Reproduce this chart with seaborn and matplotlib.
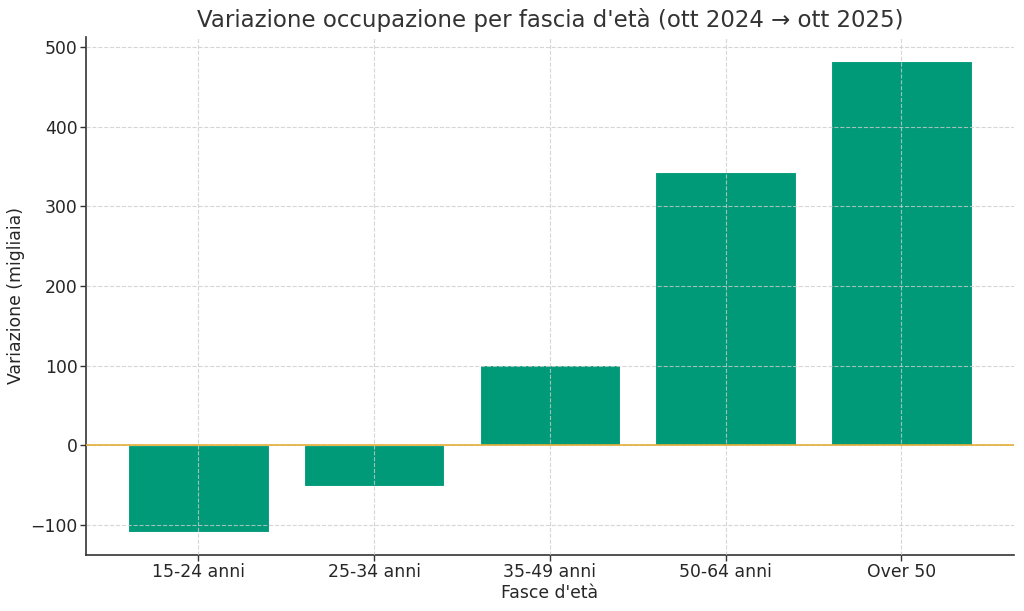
import matplotlib
matplotlib.use("Agg")
import matplotlib.pyplot as plt
import seaborn as sns
import pandas as pd

categories = ["15-24 anni", "25-34 anni", "35-49 anni", "50-64 anni", "Over 50"]
values = [-109, -51, 101, 343, 483]

sns.set_style("white")
plt.rcParams['font.family'] = ['DejaVu Sans']

df = pd.DataFrame({"Fascia": categories, "Variazione": values})

fig = plt.figure(figsize=(10.24, 6.11), dpi=100)
ax = fig.add_axes([0.084, 0.0917, 0.906, 0.8477])
sns.barplot(data=df, x="Fascia", y="Variazione", color="#009a78", saturation=1,
            width=0.8, edgecolor="white", linewidth=0.8, ax=ax)
ax.axhline(0, color="#e5ae38", linewidth=1.2, zorder=3)
ax.set_axisbelow(False)
ax.grid(True, linestyle="--", color="#cccccc", linewidth=0.8, alpha=0.8)
ax.set_xlim(-0.64, 4.64)
ax.set_ylim(-138, 513)
ax.set_yticks([-100, 0, 100, 200, 300, 400, 500])
ax.set_yticklabels(["\u2212100", "0", "100", "200", "300", "400", "500"])
for s in ["top", "right"]:
    ax.spines[s].set_visible(False)
for s in ["left", "bottom"]:
    ax.spines[s].set_color("#333333")
    ax.spines[s].set_linewidth(1.2)
ax.tick_params(axis="both", labelsize=12.4, colors="#333333", length=4, width=1,
               left=True, bottom=True, labelcolor="#262626", pad=2)
ax.set_title("Variazione occupazione per fascia d'età (ott 2024 \u2192 ott 2025)",
             fontsize=16.5, color="#333333", pad=7)
ax.set_xlabel("Fasce d'età", fontsize=12.4, color="#262626", labelpad=2)
ax.set_ylabel("Variazione (migliaia)", fontsize=12.4, color="#262626", labelpad=4)
fig.savefig("out.png", dpi=100)
